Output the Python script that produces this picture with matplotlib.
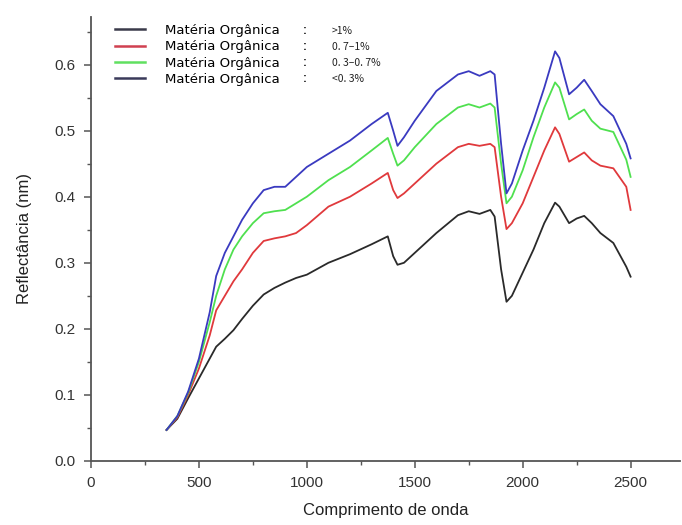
import matplotlib

matplotlib.use("Agg")
import matplotlib.pyplot as plt
from matplotlib.ticker import FormatStrFormatter, MultipleLocator

plt.rcParams["font.family"] = ["Liberation Sans", "DejaVu Sans"]

# wavelength nodes (nm)
wavelength = [350, 400, 450, 500, 550, 580, 620, 660, 700, 750, 800, 850, 900, 950,
              1000, 1100, 1200, 1300, 1375, 1400, 1420, 1450, 1500, 1600, 1700, 1750,
              1800, 1850, 1870, 1900, 1925, 1950, 2000, 2050, 2100, 2150, 2170, 2215,
              2250, 2285, 2320, 2360, 2420, 2480, 2500]

mo_gt1 = [0.047, 0.064, 0.095, 0.125, 0.155, 0.173, 0.185, 0.198, 0.215, 0.235, 0.252,
          0.262, 0.270, 0.277, 0.282, 0.300, 0.313, 0.328, 0.340, 0.310, 0.297, 0.300,
          0.315, 0.345, 0.372, 0.378, 0.374, 0.380, 0.370, 0.290, 0.241, 0.250, 0.285,
          0.320, 0.360, 0.391, 0.385, 0.360, 0.367, 0.371, 0.360, 0.345, 0.330, 0.294,
          0.279]

mo_07_1 = [0.047, 0.066, 0.100, 0.140, 0.190, 0.228, 0.250, 0.272, 0.290, 0.315, 0.333,
           0.337, 0.340, 0.345, 0.357, 0.385, 0.400, 0.420, 0.436, 0.410, 0.398, 0.405,
           0.420, 0.450, 0.475, 0.480, 0.477, 0.480, 0.475, 0.400, 0.351, 0.360, 0.390,
           0.430, 0.470, 0.505, 0.495, 0.453, 0.460, 0.467, 0.455, 0.447, 0.443, 0.415,
           0.380]

mo_03_07 = [0.047, 0.068, 0.103, 0.150, 0.210, 0.250, 0.290, 0.320, 0.340, 0.360, 0.375,
            0.378, 0.380, 0.390, 0.400, 0.425, 0.445, 0.470, 0.489, 0.465, 0.447, 0.455,
            0.475, 0.510, 0.535, 0.540, 0.535, 0.541, 0.535, 0.450, 0.390, 0.400, 0.440,
            0.490, 0.535, 0.573, 0.565, 0.517, 0.525, 0.532, 0.515, 0.503, 0.498, 0.456,
            0.430]

mo_lt03 = [0.047, 0.068, 0.105, 0.155, 0.225, 0.280, 0.315, 0.340, 0.365, 0.390, 0.410,
           0.415, 0.415, 0.430, 0.445, 0.465, 0.485, 0.510, 0.527, 0.500, 0.477, 0.490,
           0.515, 0.560, 0.585, 0.590, 0.583, 0.590, 0.585, 0.480, 0.405, 0.420, 0.470,
           0.515, 0.565, 0.620, 0.610, 0.555, 0.565, 0.577, 0.560, 0.540, 0.522, 0.480,
           0.458]

labels = [">1%", "0. 7\u20131%", "0. 3\u20130. 7%", "<0. 3%"]
series = [mo_gt1, mo_07_1, mo_03_07, mo_lt03]
colors = ["#2a2a2a", "#e0393c", "#4fe04f", "#3a3ac0"]
legend_colors = ["#3a3a4a", "#d04050", "#60e060", "#3a3a5a"]

W, H = 682, 525
fig = plt.figure(figsize=(W / 100, H / 100), dpi=100)
ax = fig.add_axes([91 / W, 1 - 461 / H, 0.864, (461 - 17) / H])

handles = []
for vals, c, lc in zip(series, colors, legend_colors):
    ax.plot(wavelength, vals, color=c, lw=1.3)
    h, = ax.plot([], [], color=lc, lw=1.8, label="Matéria Orgânica")
    handles.append(h)

leg = ax.legend(handles=handles, loc="upper left", bbox_to_anchor=(115 / W, 1 - 24 / H),
                bbox_transform=fig.transFigure, frameon=False, borderpad=0,
                borderaxespad=0, prop={"family": "DejaVu Sans", "size": 9.5},
                handlelength=2.3, handletextpad=1.5, labelspacing=0.25)

ax.set_xlim(0, 2730)
ax.set_ylim(0, 0.672)
ax.xaxis.set_major_locator(MultipleLocator(500))
ax.xaxis.set_minor_locator(MultipleLocator(250))
ax.yaxis.set_major_locator(MultipleLocator(0.1))
ax.yaxis.set_minor_locator(MultipleLocator(0.05))
ax.yaxis.set_major_formatter(FormatStrFormatter("%.1f"))

for side in ("top", "right"):
    ax.spines[side].set_visible(False)
for side in ("left", "bottom"):
    ax.spines[side].set_color("#555555")
    ax.spines[side].set_linewidth(1.3)
ax.tick_params(which="major", direction="out", length=5, width=1.1, pad=6,
               colors="#555555", labelcolor="#333333", labelsize=11)
ax.tick_params(which="minor", direction="out", length=3, width=1.0, colors="#555555")

ax.set_xlabel("Comprimento de onda", fontsize=12, color="#222222", labelpad=9)
ax.set_ylabel("Reflectância (nm)", fontsize=12, color="#222222", labelpad=16)

# colon and percentage columns next to each legend row
fig.canvas.draw()
renderer = fig.canvas.get_renderer()
inv = fig.transFigure.inverted()
for txt, lab in zip(leg.get_texts(), labels):
    bb = txt.get_window_extent(renderer)
    yc = inv.transform((0, (bb.y0 + bb.y1) / 2))[1]
    fig.text(303 / W, yc, ":", fontsize=8.5, va="center", color="#222222",
             fontweight="bold")
    fig.text(332 / W, yc, lab, fontsize=7.5, va="center", color="#222222",
             family=["Noto Sans CJK SC", "DejaVu Sans"])

fig.savefig("out.png", dpi=100)
